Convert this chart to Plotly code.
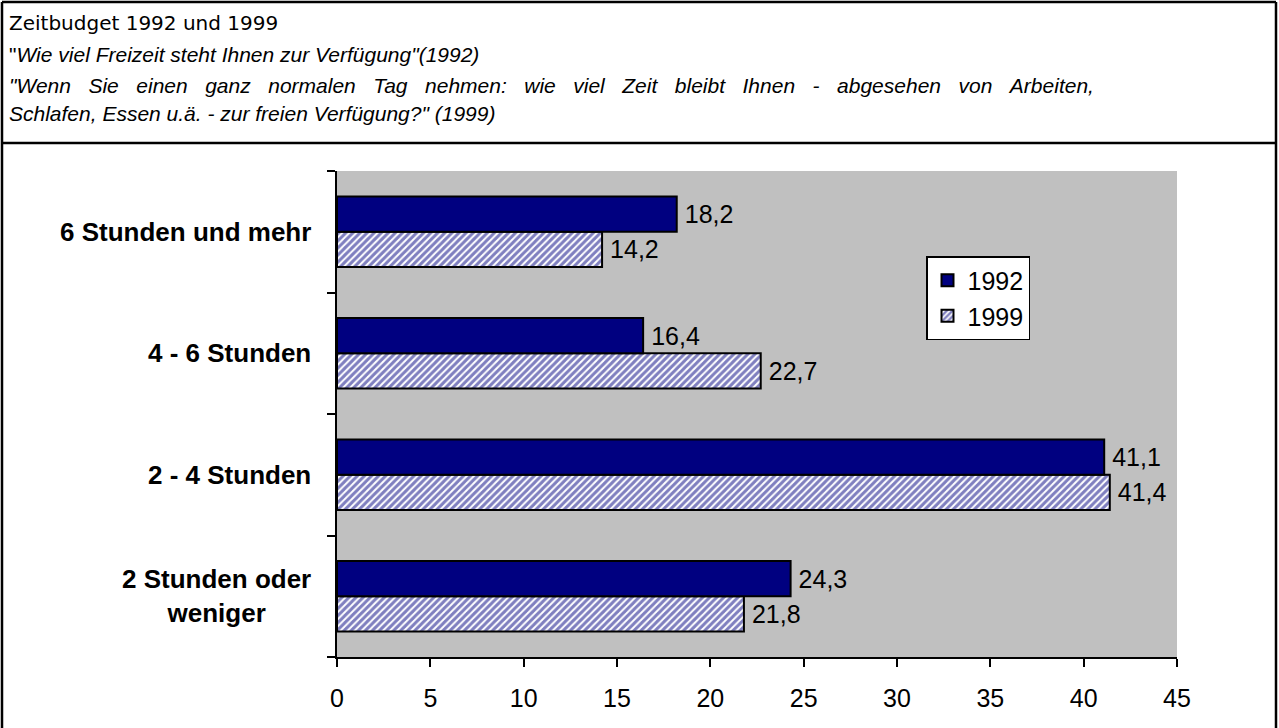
import plotly.graph_objects as go

# ---- data ----
categories = ["2 Stunden oder<br>weniger", "2 - 4 Stunden", "4 - 6 Stunden", "6 Stunden und mehr"]
values_1992 = [24.3, 41.1, 16.4, 18.2]
values_1999 = [21.8, 41.4, 22.7, 14.2]
x_ticks = [0, 5, 10, 15, 20, 25, 30, 35, 40, 45]

title_main = "Zeitbudget 1992 und 1999"
subtitle_lines = [
    "\"<i>Wie viel Freizeit steht Ihnen zur Verfügung\"(1992)</i>",
    "<i>\"Wenn Sie einen ganz normalen Tag nehmen: wie viel Zeit bleibt Ihnen - abgesehen von Arbeiten,</i>",
    "<i>Schlafen, Essen u.ä. - zur freien Verfügung?\" (1999)</i>",
]
justified = [False, True, False]

NAVY = "#000080"
W, H = 1279, 728
L, R, T, B = 337, 1177, 171, 657
PW, PH = R - L, B - T


def px(xp):
    return (xp - L) / PW


def py(yp):
    return (B - yp) / PH


LABEL_FONT = dict(family="Liberation Sans, Arial", size=25, color="black")

fig = go.Figure()
fig.add_trace(go.Bar(
    y=categories, x=values_1999, name="1999", orientation="h",
    marker=dict(color="white", line=dict(color="black", width=2),
                pattern=dict(shape="/", fgcolor=NAVY, bgcolor="white", size=5, solidity=0.6,
                             fillmode="overlay")),
    texttemplate="\u2009%{x:.1f}", textposition="outside",
    textfont=LABEL_FONT, cliponaxis=False,
))
fig.add_trace(go.Bar(
    y=categories, x=values_1992, name="1992", orientation="h",
    marker=dict(color=NAVY, line=dict(color="black", width=2)),
    texttemplate="\u2009%{x:.1f}", textposition="outside",
    textfont=LABEL_FONT, cliponaxis=False,
))

annotations = []
for c in categories:
    annotations.append(dict(
        x=px(313), xref="paper", y=c, yref="y", text="<b>" + c + "</b>",
        showarrow=False, xanchor="right", yanchor="middle", align="center",
        font=dict(family="Liberation Sans, Arial", size=26, color="black"),
    ))

annotations.append(dict(
    x=px(7), xref="paper", y=py(23), yref="paper", text=title_main,
    showarrow=False, xanchor="left", yanchor="middle", align="left",
    font=dict(family="DejaVu Sans", size=20, color="black"),
))
sub_y = [55, 85, 113]
for line, yy, just in zip(subtitle_lines, sub_y, justified):
    txt = line.replace(" ", " \u00a0\u00a0") if just else line
    annotations.append(dict(
        x=px(7), xref="paper", y=py(yy), yref="paper", text=txt,
        showarrow=False, xanchor="left", yanchor="middle", align="left",
        font=dict(family="Liberation Sans, Arial", size=21, color="black"),
    ))

frame = dict(color="black", width=2.5)
shapes = [
    dict(type="line", xref="paper", yref="paper", x0=px(2), x1=px(2), y0=py(728), y1=py(2), line=frame),
    dict(type="line", xref="paper", yref="paper", x0=px(1276), x1=px(1276), y0=py(728), y1=py(2), line=frame),
    dict(type="line", xref="paper", yref="paper", x0=px(2), x1=px(1276), y0=py(2), y1=py(2), line=frame),
    dict(type="line", xref="paper", yref="paper", x0=px(2), x1=px(1276), y0=py(143), y1=py(143), line=frame),
]

fig.update_layout(
    width=W, height=H,
    margin=dict(l=L, r=W - R, t=T, b=H - B, autoexpand=False),
    paper_bgcolor="white", plot_bgcolor="#C0C0C0",
    barmode="group", bargap=0.42, bargroupgap=0,
    separators=",.",
    showlegend=True,
    legend=dict(
        x=px(926), y=py(256), xanchor="left", yanchor="top",
        bgcolor="white", bordercolor="black", borderwidth=1.5,
        font=dict(family="Liberation Sans, Arial", size=25, color="black"),
        traceorder="reversed", itemwidth=30, tracegroupgap=0,
    ),
    xaxis=dict(
        range=[0, 45], tickvals=x_ticks, ticktext=[str(v) for v in x_ticks],
        showgrid=False, zeroline=False, showline=True, linecolor="black", linewidth=2,
        ticks="outside", ticklen=8, tickwidth=2, tickcolor="black",
        tickfont=dict(family="Liberation Sans, Arial", size=25, color="black"),
        ticklabelstandoff=10, fixedrange=True,
    ),
    yaxis=dict(
        type="category", categoryorder="array", categoryarray=categories,
        range=[-0.5, 3.5],
        showgrid=False, zeroline=False, showline=True, linecolor="black", linewidth=2,
        ticks="outside", tickson="boundaries", ticklen=8, tickwidth=2, tickcolor="black",
        showticklabels=False, fixedrange=True,
    ),
    annotations=annotations,
    shapes=shapes,
)

fig.write_html(
    "out.html",
    config={"displayModeBar": False},
    post_script="document.body.style.margin='0px';document.body.style.padding='0px';"
                "document.body.style.overflow='hidden';",
)
